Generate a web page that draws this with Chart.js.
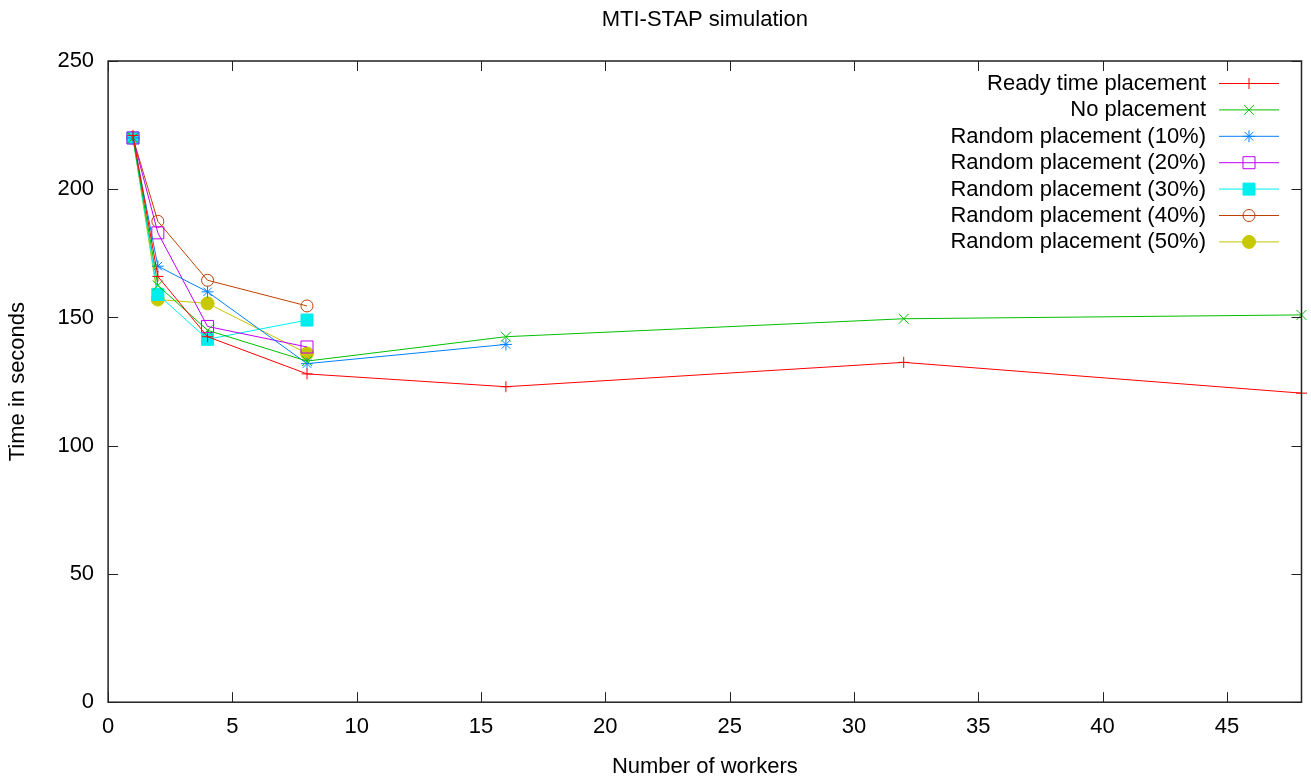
<!DOCTYPE html>
<html>
<head>
<meta charset="utf-8">
<script src="https://cdn.jsdelivr.net/npm/chart.js@4/dist/chart.umd.min.js"></script>
<style>
  html, body { margin: 0; padding: 0; background: #fff; }
  #wrap { width: 1311px; height: 783px; }
</style>
</head>
<body>
<div id="wrap"><canvas id="chart"></canvas></div>
<script>
const workers = [1, 2, 4, 8, 16, 32, 48]

const readyTime = [221, 166, 142.5, 128, 123, 132.5, 120.5]
const noPlacement = [220, 162.5, 145, 133, 142.5, 149.5, 151]
const random10 = [220, 170, 160, 132, 139.5]
const random20 = [220, 183, 146.5, 138.5]
const random30 = [220, 159, 141.5, 149]
const random40 = [220, 187.5, 164.5, 154.5]
const random50 = [220, 157, 155.5, 136]

const xTicks = [0, 5, 10, 15, 20, 25, 30, 35, 40, 45]
const yTicks = [0, 50, 100, 150, 200, 250]

const FONT = "'Liberation Sans', Arial, Helvetica, sans-serif"
const SIZE = 22

const toPoints = values => values.map((v, i) => ({ x: workers[i], y: v }))

function series(label, values, color, pointStyle, radius, filled) {
  return {
    label: label,
    data: toPoints(values),
    borderColor: color,
    backgroundColor: filled ? color : "rgba(0,0,0,0)",
    borderWidth: 1,
    pointStyle: pointStyle,
    pointRadius: radius,
    pointBorderWidth: 1,
    pointHoverRadius: radius,
    tension: 0,
    clip: false
  }
}

const datasets = [
  series("Ready time placement", readyTime, "#ff0000", "cross", 5.5, false),
  series("No placement", noPlacement, "#00c000", "crossRot", 7, false),
  series("Random placement (10%)", random10, "#0080ff", "star", 6, false),
  series("Random placement (20%)", random20, "#c000ff", "rect", 8.5, false),
  series("Random placement (30%)", random30, "#00eeee", "rect", 8.5, true),
  series("Random placement (40%)", random40, "#c04000", "circle", 6, false),
  series("Random placement (50%)", random50, "#c8c800", "circle", 6.5, true)
]

// gnuplot style frame with inward ticks on all four sides, title over the plot
const framePlugin = {
  id: "frame",
  afterDatasetsDraw(chart) {
    const { ctx, chartArea: a, scales } = chart
    const len = 10
    ctx.save()
    ctx.strokeStyle = "#222"
    ctx.lineWidth = 1.5
    ctx.strokeRect(a.left, a.top, a.right - a.left, a.bottom - a.top)
    ctx.lineWidth = 1
    ctx.beginPath()
    xTicks.forEach(v => {
      const px = Math.round(scales.x.getPixelForValue(v)) + 0.5
      ctx.moveTo(px, a.bottom); ctx.lineTo(px, a.bottom - len)
      ctx.moveTo(px, a.top); ctx.lineTo(px, a.top + len)
    })
    yTicks.forEach(v => {
      const py = Math.round(scales.y.getPixelForValue(v)) + 0.5
      ctx.moveTo(a.left, py); ctx.lineTo(a.left + len, py)
      ctx.moveTo(a.right, py); ctx.lineTo(a.right - len, py)
    })
    ctx.stroke()

    ctx.fillStyle = "#000"
    ctx.font = SIZE + "px " + FONT
    ctx.textAlign = "center"
    ctx.textBaseline = "middle"
    ctx.fillText("MTI-STAP simulation", (a.left + a.right) / 2, 20)
    ctx.restore()
  }
}

// key inside the top right corner: text right aligned, sample line with marker
const keyPlugin = {
  id: "key",
  afterDraw(chart) {
    const { ctx } = chart
    const textRight = 1206
    const lineLeft = 1219
    const lineRight = 1279
    const top = 83
    const step = 26.4
    ctx.save()
    ctx.font = SIZE + "px " + FONT
    ctx.textAlign = "right"
    ctx.textBaseline = "middle"
    chart.data.datasets.forEach((ds, i) => {
      const y = top + i * step
      ctx.fillStyle = "#000"
      ctx.fillText(ds.label, textRight, y + 1)
      ctx.strokeStyle = ds.borderColor
      ctx.lineWidth = 1
      ctx.beginPath()
      ctx.moveTo(lineLeft, y + 0.5)
      ctx.lineTo(lineRight, y + 0.5)
      ctx.stroke()
      ctx.fillStyle = ds.backgroundColor
      Chart.helpers.drawPoint(ctx, {
        pointStyle: ds.pointStyle,
        radius: ds.pointRadius,
        rotation: 0,
        borderWidth: 1
      }, (lineLeft + lineRight) / 2, y + 0.5)
    })
    ctx.restore()
  }
}

new Chart(document.getElementById("chart"), {
  type: "line",
  data: { datasets: datasets },
  options: {
    responsive: true,
    maintainAspectRatio: false,
    animation: false,
    events: [],
    layout: { padding: { left: 0, right: 9, top: 61, bottom: 0 } },
    plugins: {
      legend: { display: false },
      tooltip: { enabled: false },
      title: { display: false }
    },
    scales: {
      x: {
        type: "linear",
        min: 0,
        max: 48,
        grid: { display: false, drawTicks: false },
        border: { display: false },
        afterBuildTicks: scale => { scale.ticks = xTicks.map(v => ({ value: v })) },
        ticks: {
          color: "#000",
          padding: 12,
          maxRotation: 0,
          font: { family: FONT, size: SIZE, lineHeight: 1.2 }
        },
        title: {
          display: true,
          text: "Number of workers",
          color: "#000",
          font: { family: FONT, size: SIZE, lineHeight: 1.2 },
          padding: { top: 1, bottom: 3 }
        }
      },
      y: {
        type: "linear",
        min: 0,
        max: 250,
        grid: { display: false, drawTicks: false },
        border: { display: false },
        afterBuildTicks: scale => { scale.ticks = yTicks.map(v => ({ value: v })) },
        ticks: {
          color: "#000",
          padding: 14,
          font: { family: FONT, size: SIZE, lineHeight: 1.2 }
        },
        title: {
          display: true,
          text: "Time in seconds",
          color: "#000",
          font: { family: FONT, size: SIZE, lineHeight: 1.2 },
          padding: { top: 5, bottom: 12 }
        }
      }
    }
  },
  plugins: [framePlugin, keyPlugin]
})
</script>
</body>
</html>
